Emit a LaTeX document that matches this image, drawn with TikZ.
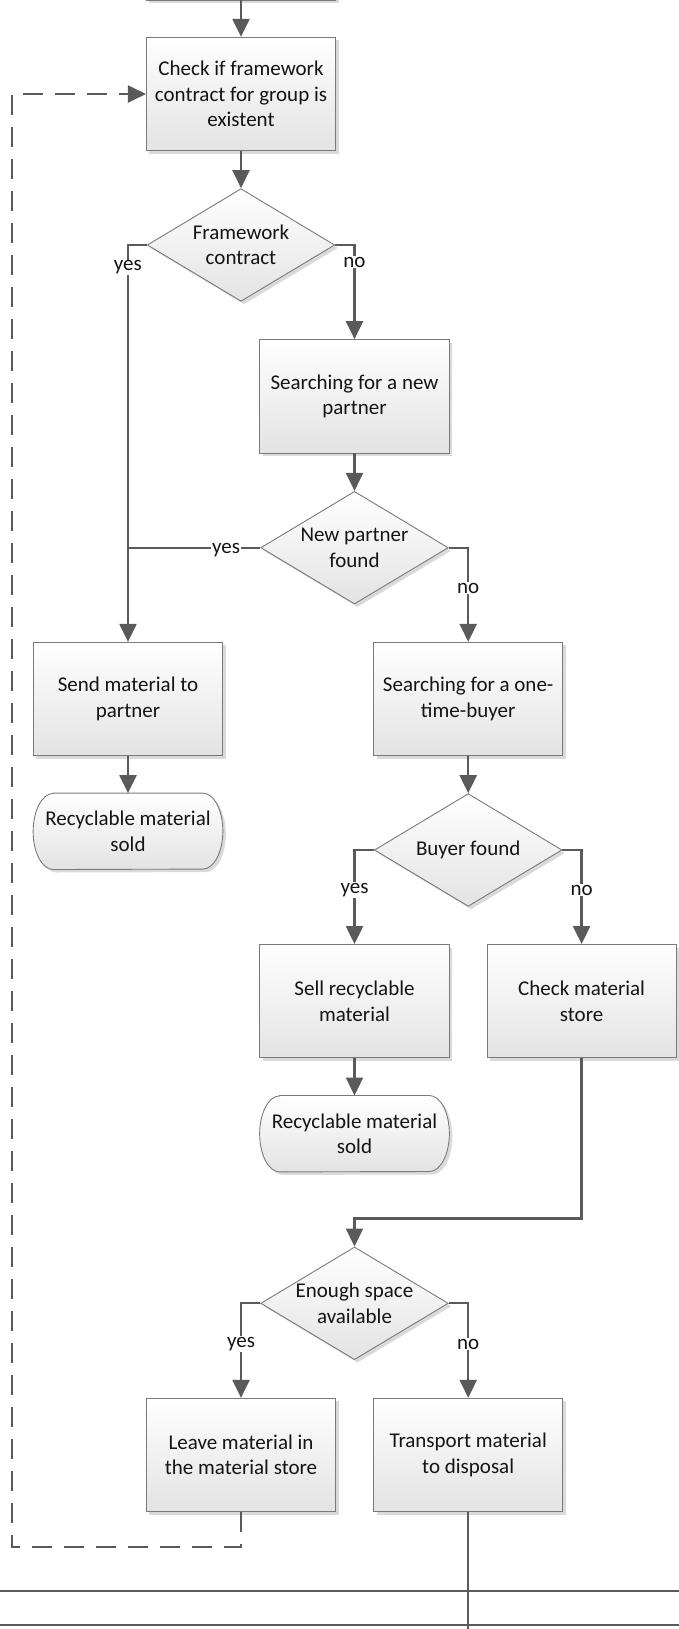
\documentclass[tikz,border=0pt]{standalone}
\usepackage{fontspec}
\setmainfont{Carlito}
\usetikzlibrary{shapes.geometric, arrows.meta, shadows}
\pgfdeclarelayer{background}
\pgfsetlayers{background,main}

\definecolor{linegray}{HTML}{5A5A5A}
\definecolor{edgegray}{HTML}{7A7A7A}
\definecolor{shadegray}{HTML}{E3E3E3}
\definecolor{shadowgray}{HTML}{DADADA}
\definecolor{inkgray}{HTML}{141414}
\newcommand\flowfont{\fontsize{21}{25.5}\selectfont}
% a centred line that takes no width, so the diamond keeps its set size
\newcommand\thinline[1]{\makebox[0pt]{#1}}

% stadium outline with elliptical ends around a terminal node
\newcommand\termpath[1]{%
  \path[termoutline] ([xshift=20pt]#1.north west) -- ([xshift=-20pt]#1.north east)
    arc[start angle=90, end angle=-90, x radius=20pt, y radius=38pt]
    -- ([xshift=20pt]#1.south west)
    arc[start angle=270, end angle=90, x radius=20pt, y radius=38pt] -- cycle;}

\tikzset{
  flowshadow/.style={drop shadow={shadow xshift=3pt, shadow yshift=-3pt, fill=shadowgray, opacity=1}},
  stepbox/.style={rectangle, draw=edgegray, line width=0.9pt, top color=white, bottom color=shadegray,
    flowshadow, minimum width=189.2pt, minimum height=113.4pt, inner sep=0pt, align=center,
    text=inkgray, font=\flowfont},
  decision/.style={diamond, shape aspect=1.665, draw=edgegray, line width=0.9pt, top color=white,
    bottom color=shadegray, flowshadow, minimum width=187.6pt, minimum height=112.7pt,
    inner sep=0pt, align=center, text=inkgray, font=\flowfont},
  terminal/.style={rectangle, minimum width=189.3pt, minimum height=76pt, inner sep=0pt,
    align=center, text=inkgray, font=\flowfont},
  termoutline/.style={draw=edgegray, line width=0.9pt, top color=white, bottom color=shadegray, flowshadow},
  conn/.style={draw=linegray, line width=2.3pt, -{Triangle[length=18pt,width=17pt]}},
  plain/.style={draw=linegray, line width=2.3pt},
  loopback/.style={conn, dash pattern=on 20pt off 12pt},
  branch/.style={fill=white, inner sep=1pt, text=inkgray, font=\flowfont},
}

\begin{document}
\begin{tikzpicture}[x=1pt, y=1pt]
\useasboundingbox (0,0) rectangle (679,-1629);
\clip (0,0) rectangle (679,-1629);

% process steps
\node[stepbox] (prev) at (241,56.7) {};
\node[stepbox] (box1) at (241,-94) {Check if framework\\contract for group is\\existent};
\node[decision] (d1) at (241,-245) {\thinline{Framework}\\\thinline{contract}};
\node[stepbox] (box2) at (354.5,-396.3) {Searching for a new\\partner};
\node[decision] (d2) at (354.5,-547.7) {\thinline{New partner}\\\thinline{found}};
\node[stepbox] (send) at (128,-699) {Send material to\\partner};
\node[stepbox] (onetime) at (468.2,-699) {Searching for a one-\\time-buyer};
\node[terminal] (t1) at (128,-831.3) {Recyclable material\\sold};
\node[decision] (d3) at (468.2,-850) {\thinline{Buyer found}};
\node[stepbox] (sell) at (354.5,-1001.2) {Sell recyclable\\material};
\node[stepbox] (check) at (581.6,-1001.2) {Check material\\store};
\node[terminal] (t2) at (354.5,-1133.7) {Recyclable material\\sold};
\node[decision] (d4) at (354.5,-1303.3) {\thinline{Enough space}\\\thinline{available}};
\node[stepbox] (leave) at (241,-1455) {Leave material in\\the material store};
\node[stepbox] (transport) at (468.2,-1455) {Transport material\\to disposal};

\begin{pgfonlayer}{background}
  \termpath{t1}
  \termpath{t2}
\end{pgfonlayer}

% helper points
\coordinate (loopcorner) at (11.7,-1546.7);
\coordinate (exit) at (468.2,-1640);
\coordinate (laneAw) at (0,-1591);
\coordinate (laneAe) at (679,-1591);
\coordinate (laneBw) at (0,-1625);
\coordinate (laneBe) at (679,-1625);

% connectors
\draw[conn] (prev.south) -- (box1.north);
\draw[conn] (box1.south) -- (d1.north);
\draw[conn] (d1.west) -| (send.north);
\draw[conn] (d1.east) -| (box2.north);
\draw[conn] (box2.south) -- (d2.north);
\draw[plain] (d2.west) -- (d2.west -| send.north);
\draw[conn] (d2.east) -| (onetime.north);
\draw[conn] (send.south) -- (t1.north);
\draw[conn] (onetime.south) -- (d3.north);
\draw[conn] (d3.west) -| (sell.north);
\draw[conn] (d3.east) -| (check.north);
\draw[conn] (sell.south) -- (t2.north);
\draw[conn] (check.south) -- ++(0,-160) -| (d4.north);
\draw[conn] (d4.west) -| (leave.north);
\draw[conn] (d4.east) -| (transport.north);
\draw[loopback] (leave.south) |- (loopcorner) |- (box1.west);
\draw[plain] (transport.south) -- (exit);
\draw[plain] (laneAw) -- (laneAe);
\draw[plain] (laneBw) -- (laneBe);

% branch labels
\node[branch] (yes1) at (127.8,-267.5) {yes};
\node[branch] (no1) at (354.5,-262) {no};
\node[branch] (yes2) at (226,-550) {yes};
\node[branch] (no2) at (468.2,-588) {no};
\node[branch] (yes3) at (354.5,-890) {yes};
\node[branch] (no3) at (581.6,-890) {no};
\node[branch] (yes4) at (241,-1344) {yes};
\node[branch] (no4) at (468.2,-1344) {no};
\end{tikzpicture}
\end{document}
